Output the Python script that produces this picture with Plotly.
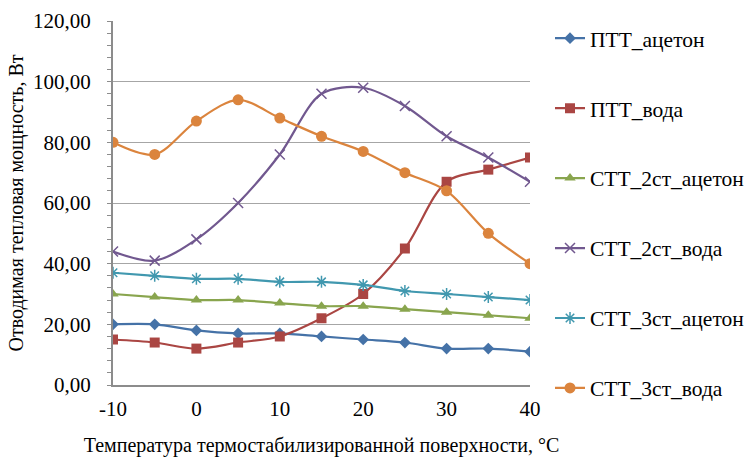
import plotly.graph_objects as go

temps = [-10, -5, 0, 5, 10, 15, 20, 25, 30, 35, 40]
x_tick_vals = [-10, 0, 10, 20, 30, 40]
x_tick_text = ["-10", "0", "10", "20", "30", "40"]
ptt_aceton = [20, 20, 18, 17, 17, 16, 15, 14, 12, 12, 11]
ptt_voda = [15, 14, 12, 14, 16, 22, 30, 45, 67, 71, 75]
stt2_aceton = [30, 29, 28, 28, 27, 26, 26, 25, 24, 23, 22]
stt2_voda = [44, 41, 48, 60, 76, 96, 98, 92, 82, 75, 67]
stt3_aceton = [37, 36, 35, 35, 34, 34, 33, 31, 30, 29, 28]
stt3_voda = [80, 76, 87, 94, 88, 82, 77, 70, 64, 50, 40]

names = ["ПТТ_ацетон", "ПТТ_вода", "СТТ_2ст_ацетон", "СТТ_2ст_вода", "СТТ_3ст_ацетон", "СТТ_3ст_вода"]
series = [ptt_aceton, ptt_voda, stt2_aceton, stt2_voda, stt3_aceton, stt3_voda]
colors = ["#4572A7", "#AA4643", "#89A54E", "#71588F", "#4198AF", "#DB843D"]
symbols = ["diamond", "square", "triangle-up", "x-thin-open", "asterisk-open", "circle"]
sizes = [9, 10, 10, 10, 10, 11]

fam = "Liberation Serif"
F = dict(family=fam, size=20, color="#000000")
FT = dict(family=fam, size=21, color="#000000")

fig = go.Figure()
for i, (n, s, c, sym, sz) in enumerate(zip(names, series, colors, symbols, sizes)):
    marker = dict(symbol=sym, size=sz, color=c)
    if sym.endswith("open"):
        marker["line"] = dict(color=c, width=1.5)
    else:
        marker["line"] = dict(width=0)
    fig.add_trace(go.Scatter(
        x=temps, y=s, name=n, mode="lines+markers",
        line=dict(color=c, width=2.2, shape="spline", smoothing=0.9),
        marker=marker, legendgroup=str(i),
    ))

fig.update_layout(
    width=748, height=460,
    margin=dict(l=113, r=218, t=21, b=75, autoexpand=False),
    paper_bgcolor="white", plot_bgcolor="white",
    separators=", ",
    font=F,
    legend=dict(x=(550 - 113) / 417, y=1.009, xanchor="left", yanchor="top",
                font=dict(family=fam, size=21.5, color="#000000"),
                tracegroupgap=39, traceorder="grouped",
                itemwidth=30, maxheight=1, borderwidth=0),
    xaxis=dict(range=[-10, 40], tickvals=x_tick_vals, ticktext=x_tick_text, showgrid=False,
               showline=True, linecolor="#8c8c8c", linewidth=2,
               ticks="", zeroline=False, ticklabelstandoff=4,
               tickfont=FT,
               title=dict(text="Температура термостабилизированной поверхности, °C", standoff=18,
                          font=F)),
    yaxis=dict(range=[0, 120], dtick=20, tickformat=".2f", showgrid=True,
               gridcolor="#a6a6a6", gridwidth=1,
               showline=True, linecolor="#8c8c8c", linewidth=2,
               ticks="outside", ticklen=4, tickcolor="#8c8c8c", zeroline=False,
               ticklabelstandoff=12,
               tickfont=FT,
               minor=dict(dtick=4, ticks="outside", ticklen=4, tickcolor="#8c8c8c", showgrid=False),
               title=dict(text="Отводимая тепловая мощность, Вт", standoff=4, font=F)),
)
fig.write_html("out.html", config={"displayModeBar": False},
               post_script="document.body.style.margin='0';document.body.style.overflow='hidden';")
